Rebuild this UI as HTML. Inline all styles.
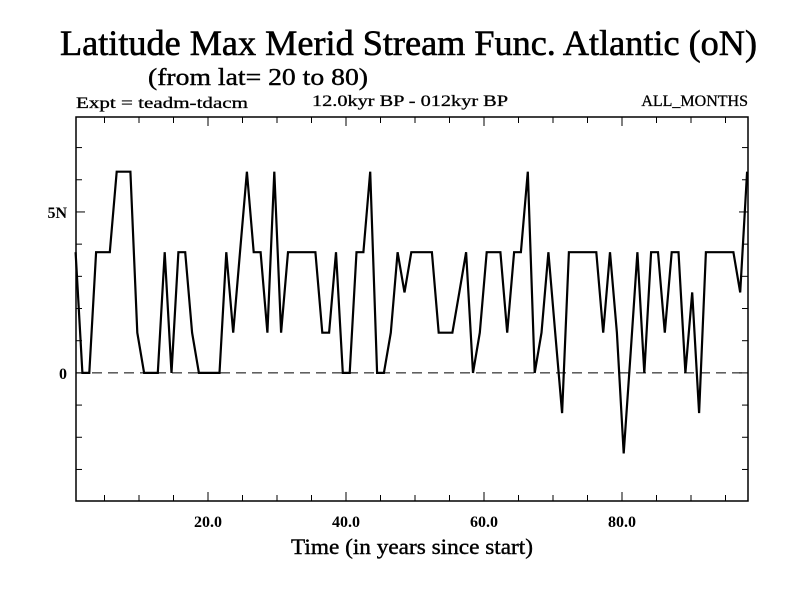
<!DOCTYPE html>
<html><head><meta charset="utf-8"><style>
body{margin:0;background:#fff}
svg{display:block;font-family:"Liberation Serif",serif}
</style></head><body>
<svg id="chart" width="800" height="600" viewBox="0 0 800 600">
<rect width="800" height="600" fill="#fff"/>
<text x="60" y="55" font-size="36" stroke="#000" stroke-width="0.6" textLength="697" lengthAdjust="spacingAndGlyphs">Latitude Max Merid Stream Func. Atlantic (oN)</text>
<text x="148" y="85" font-size="24" stroke="#000" stroke-width="0.4" textLength="220" lengthAdjust="spacingAndGlyphs">(from lat= 20 to 80)</text>
<text x="76" y="108" font-size="16" stroke="#000" stroke-width="0.3" textLength="172" lengthAdjust="spacingAndGlyphs">Expt = teadm-tdacm</text>
<text x="312" y="106" font-size="16" stroke="#000" stroke-width="0.3" textLength="196" lengthAdjust="spacingAndGlyphs">12.0kyr BP - 012kyr BP</text>
<text x="748" y="106" font-size="16" stroke="#000" stroke-width="0.3" text-anchor="end">ALL_MONTHS</text>
<text x="412" y="554" font-size="22" stroke="#000" stroke-width="0.4" text-anchor="middle" textLength="242" lengthAdjust="spacingAndGlyphs">Time (in years since start)</text>
<g id="axes"></g>
<g id="series"></g>
</svg>
<script>
const values = [3.75,0,0,3.75,3.75,3.75,6.25,6.25,6.25,1.25,
0,0,0,3.75,0,3.75,3.75,1.25,0,0,
0,0,3.75,1.25,3.75,6.25,3.75,3.75,1.25,6.25,
1.25,3.75,3.75,3.75,3.75,3.75,1.25,1.25,3.75,0,
0,3.75,3.75,6.25,0,0,1.25,3.75,2.5,3.75,
3.75,3.75,3.75,1.25,1.25,1.25,2.5,3.75,0,1.25,
3.75,3.75,3.75,1.25,3.75,3.75,6.25,0,1.25,3.75,
1.25,-1.25,3.75,3.75,3.75,3.75,3.75,1.25,3.75,1.25,
-2.5,0.6,3.75,0,3.75,3.75,1.25,3.75,3.75,0,
2.5,-1.25,3.75,3.75,3.75,3.75,3.75,2.5,6.25];
const startYear = 0.81;
const stepYear = 0.993;
const xTickLabels = ["20.0","40.0","60.0","80.0"];
const xTickValues = [20,40,60,80];
const yTickLabels = ["0","5N"];
const yTickValues = [0,5];

const L=76,R=748,T=117,B=501;
const xDom=[(L-70)/6.9,(R-70)/6.9], yDom=[-3.98,7.95];
const xs=v=>L+(v-xDom[0])/(xDom[1]-xDom[0])*(R-L);
const ys=v=>B-(v-yDom[0])/(yDom[1]-yDom[0])*(B-T);
const NS="http://www.w3.org/2000/svg";
const axes=document.getElementById('axes'), series=document.getElementById('series');
function mk(tag,attrs,parent){const e=document.createElementNS(NS,tag);for(const k in attrs)e.setAttribute(k,attrs[k]);parent.appendChild(e);return e;}

const frame=mk('rect',{x:L,y:T,width:R-L,height:B-T,fill:'none',stroke:'#000','stroke-width':1.5},axes);



for(let yr=5;yr<=95;yr+=5){
  const x=xs(yr); const len=(yr%20===0)?9:6;
  const t1=mk('line',{x1:x,x2:x,y1:B,y2:B-len,stroke:'#000','stroke-width':1},axes);
  
  
  const t2=mk('line',{x1:x,x2:x,y1:T,y2:T+len,stroke:'#000','stroke-width':1},axes);
  
  
}
for(let v=-3;v<=7;v++){
  const y=ys(v); const len=(v%5===0)?9:6;
  const a=mk('line',{x1:L,x2:L+len,y1:y,y2:y,stroke:'#000','stroke-width':1},axes);
  
  
  const b=mk('line',{x1:R,x2:R-len,y1:y,y2:y,stroke:'#000','stroke-width':1},axes);
  
  
}
xTickValues.forEach((v,i)=>{
  const t=mk('text',{x:xs(v),y:527,'font-size':16,'font-weight':'bold','text-anchor':'middle'},axes);
  t.textContent=xTickLabels[i];
  
  
});
yTickValues.forEach((v,i)=>{
  const t=mk('text',{x:67,y:ys(v)+6,'font-size':16,'font-weight':'bold','text-anchor':'end'},axes);
  t.textContent=yTickLabels[i];
  
  
});
const zl=mk('line',{x1:L,x2:R,y1:ys(0),y2:ys(0),stroke:'#000','stroke-width':1,'stroke-dasharray':'10,6'},axes);



const pts=values.map((v,i)=>xs(startYear+stepYear*i).toFixed(1)+','+ys(v).toFixed(1)).join(' ');
const line=mk('polyline',{points:pts,fill:'none',stroke:'#000','stroke-width':2.2,'stroke-linejoin':'miter'},series);


</script>
</body></html>
